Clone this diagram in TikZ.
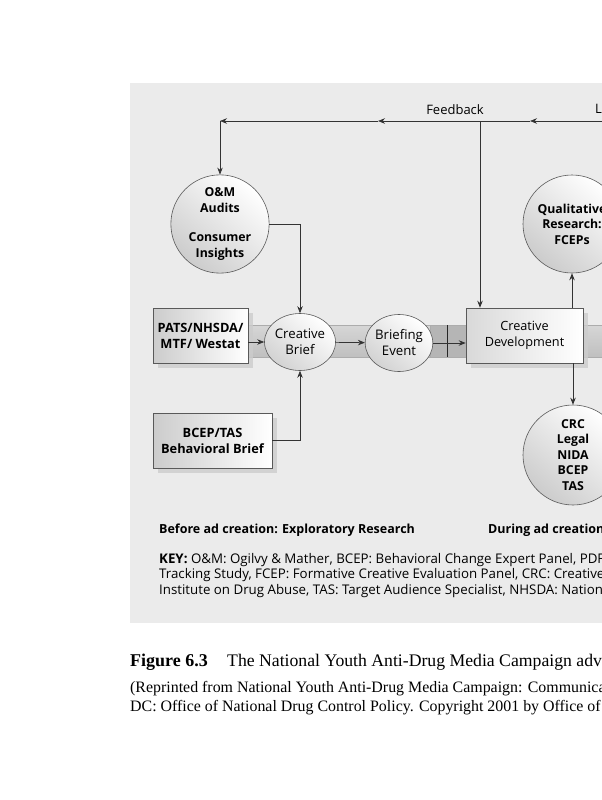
\documentclass[tikz,border=0pt]{standalone}
\usepackage{fontspec}
\setmainfont{Liberation Serif}
\newfontfamily\diagfont{Open Sans}
\usetikzlibrary{arrows.meta,shadows,positioning,shapes.geometric}

\tikzset{
  flow/.style={draw=black!80, line width=0.7pt, -{Stealth[length=7pt,width=5.5pt]}},
  roundnode/.style={circle, draw=black!65, line width=0.6pt, top color=white, bottom color=gray!40, shading angle=-40,
    font=\diagfont\bfseries\fontsize{12.3}{15.5}\selectfont, align=center, inner sep=0pt, minimum size=98pt},
  stepoval/.style={ellipse, draw=black!65, line width=0.6pt, top color=white, bottom color=gray!35, shading angle=-40,
    font=\diagfont\fontsize{13.2}{16}\selectfont, align=center, inner sep=0pt, minimum width=65pt, minimum height=57pt},
  srcbox/.style={rectangle, draw=black!65, line width=0.6pt, left color=gray!40, right color=white,
    drop shadow={shadow xshift=5pt, shadow yshift=-5pt, fill=gray!40, opacity=0.8},
    font=\diagfont\bfseries\fontsize{12.8}{16}\selectfont, align=center, inner sep=0pt},
  devbox/.style={rectangle, draw=black!65, line width=0.6pt, left color=gray!30, right color=white,
    drop shadow={shadow xshift=5pt, shadow yshift=-5pt, fill=gray!40, opacity=0.8},
    font=\diagfont\fontsize{12.7}{16}\selectfont, align=center, inner sep=0pt},
  textlabel/.style={font=\diagfont\fontsize{13}{16}\selectfont, inner sep=0pt},
  phasetext/.style={font=\diagfont\bfseries\fontsize{12.5}{16}\selectfont, inner sep=0pt, anchor=base west},
  keytext/.style={font=\diagfont\fontsize{13.3}{15.5}\selectfont, inner sep=0pt, align=left, anchor=base west},
}

\begin{document}
\begin{tikzpicture}[x=1pt,y=-1pt]
  \path[use as bounding box, clip] (0,0) rectangle (602,800);
  \fill[white] (0,0) rectangle (602,800);
  \fill[black!8] (130,83) rectangle (620,623); %panel behind the diagram
  \path[draw=gray!65, top color=gray!32, bottom color=gray!50] (248,325) rectangle (620,357); %band
  \path[draw=gray!65, fill=gray!58] (430,325) rectangle (466,357);
  \draw[gray!30!black] (447,325) -- (447,357);

  \node[srcbox, minimum width=95pt, minimum height=55pt] (pats) at (200.5,335.5) {PATS/NHSDA/\\MTF/ Westat};
  \node[srcbox, minimum width=119pt, minimum height=55pt] (bcep) at (212.5,440.5) {BCEP/TAS\\Behavioral Brief};
  \node[roundnode] (audits) at (220,224) {\raisebox{-4pt}{\begin{tabular}{@{}c@{}}O\&M\\Audits\\[14pt]Consumer\\Insights\end{tabular}}};
  \node[stepoval] (brief) at (300,342) {Creative\\Brief};
  \node[stepoval] (event) at (399,343) {Briefing\\Event};
  \node[devbox, minimum width=117pt, minimum height=55pt] (dev) at (524.5,335.5) {Creative\\Development};
  \node[roundnode] (qual) at (572,224) {Qualitative\\Research:\\FCEPs};
  \node[roundnode, minimum size=100pt] (crc) at (573,455) {CRC\\Legal\\NIDA\\BCEP\\TAS};

  % feedback loop
  \coordinate (fbR) at (620,121);
  \coordinate (fbA) at (530,121);
  \coordinate (fbB) at (378,121);
  \coordinate (fbC) at (220,121);
  \coordinate (fbD) at (480,121);
  \draw[flow] (fbR) -- (fbA);
  \draw[flow] (fbA) -- (fbB);
  \draw[flow] (fbB) -- (fbC);
  \draw[flow] (fbC) -- (audits);
  \draw[flow] (fbD) -- (fbD |- dev.north);
  \node[textlabel] (fb) at (455,110) {Feedback};
  \node[textlabel, anchor=west] (lrn) at (595,110) {Learning};

  \draw[flow] (audits.east) -| (brief.north);
  \draw[flow] (bcep.east) -| (brief.south);
  \draw[flow] (brief.west -| pats.east) -- (brief.west);
  \draw[flow] (brief) -- (event);
  \draw[flow] (event.east) -- (event.east -| dev.west);
  \draw[flow] (dev.north -| qual.south) -- (qual.south);
  \draw[flow] (dev.south -| crc.north) -- (crc.north);

  \node[phasetext] (before) at (159,533) {Before ad creation: Exploratory Research};
  \node[phasetext] (during) at (488,533) {During ad creation};
  \node[keytext] (key) at (159,594) {\textbf{KEY:} O\&M: Ogilvy \& Mather, BCEP: Behavioral Change Expert Panel, PDFA\\
    Tracking Study, FCEP: Formative Creative Evaluation Panel, CRC: Creative\\
    Institute on Drug Abuse, TAS: Target Audience Specialist, NHSDA: National};

  \node[anchor=base west, inner sep=0pt, font=\bfseries\fontsize{18}{21}\selectfont] (figno) at (130,666) {Figure 6.3};
  \node[anchor=base west, inner sep=0pt, font=\fontsize{17.7}{21}\selectfont] (title) at (227,666) {The National Youth Anti-Drug Media Campaign advertising};
  \node[anchor=base west, inner sep=0pt, align=left, font=\fontsize{15.9}{19}\selectfont] (source) at (130,711) {(Reprinted from National Youth Anti-Drug Media Campaign: Communication\\
    DC: Office of National Drug Control Policy. Copyright 2001 by Office of National};
\end{tikzpicture}
\end{document}
